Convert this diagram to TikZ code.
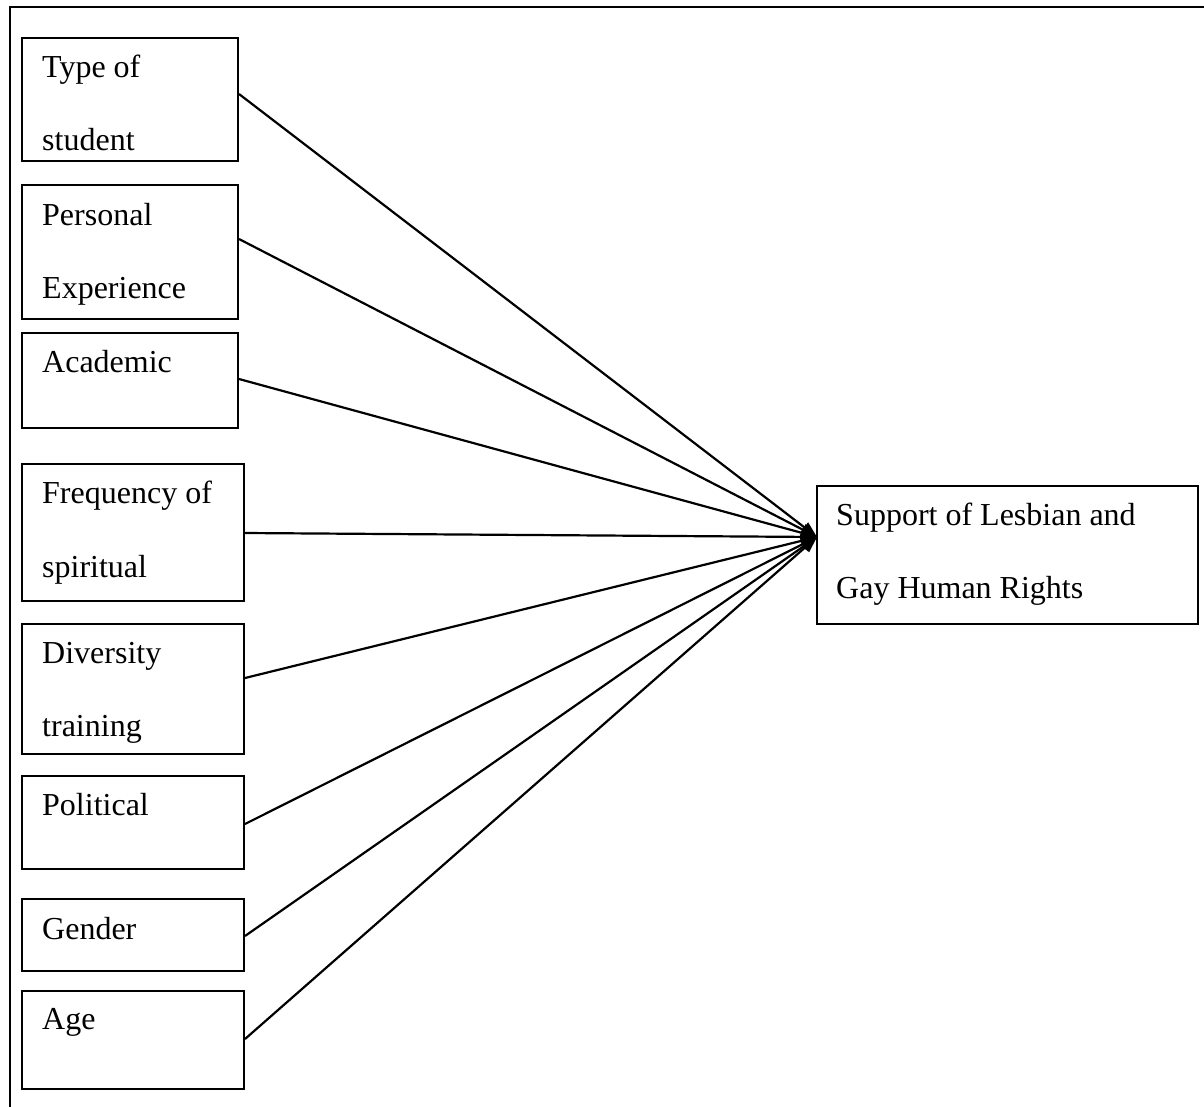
\documentclass[tikz,border=0pt]{standalone}
\usepackage{fontspec}
\setmainfont{Liberation Serif}
\usetikzlibrary{arrows.meta,calc}
\begin{document}
\begin{tikzpicture}[x=1pt,y=-1pt,
  box/.style={draw,line width=2pt,inner sep=0pt,anchor=north west},
  lbl/.style={anchor=base west,inner sep=0pt,font=\fontsize{32}{38}\selectfont},
  link/.style={line width=2.2pt,-{Triangle[length=16pt,width=12pt]}}]
\useasboundingbox (0,0) rectangle (1204,1106);
\clip (0,0) rectangle (1204,1106);
% outer frame (cut at right and bottom)
\coordinate (fa) at (10,7);
\coordinate (fb) at (1215,7);
\coordinate (fc) at (10,1115);
\draw[line width=2pt] (fb) -- (fa) -- (fc);
% boxes
\node[box,minimum width=216pt,minimum height=123pt] (b1) at (21,37) {};
\node[box,minimum width=216pt,minimum height=134pt] (b2) at (21,184) {};
\node[box,minimum width=216pt,minimum height=95pt] (b3) at (21,332) {};
\node[box,minimum width=222pt,minimum height=137pt] (b4) at (21,463) {};
\node[box,minimum width=222pt,minimum height=130pt] (b5) at (21,623) {};
\node[box,minimum width=222pt,minimum height=93pt] (b6) at (21,775) {};
\node[box,minimum width=222pt,minimum height=72pt] (b7) at (21,898) {};
\node[box,minimum width=222pt,minimum height=98pt] (b8) at (21,990) {};
\node[box,minimum width=381pt,minimum height=138pt] (t) at (816,485) {};
% labels
\node[lbl] (l1a) at (42,77) {Type of};
\node[lbl] (l1b) at (42,150) {student};
\node[lbl] (l2a) at (42,225) {Personal};
\node[lbl] (l2b) at (42,298) {Experience};
\node[lbl] (l3a) at (42,372) {Academic};
\node[lbl] (l4a) at (42,503) {Frequency of};
\node[lbl] (l4b) at (42,577) {spiritual};
\node[lbl] (l5a) at (42,663) {Diversity};
\node[lbl] (l5b) at (42,736) {training};
\node[lbl] (l6a) at (42,815) {Political};
\node[lbl] (l7a) at (42,939) {Gender};
\node[lbl] (l8a) at (42,1029) {Age};
\node[lbl] (ta) at (836,525) {Support of Lesbian and};
\node[lbl] (tb) at (836,598) {Gay Human Rights};
% connectors
\coordinate (tip) at (817,537);
\foreach \b/\dy in {b1/-5.5,b2/-13,b3/-1.5,b4/0.5,b5/-11,b6/1.5,b7/1,b8/-1}
  \draw[link] ($(\b.east)+(0,\dy)$) -- (tip);
\end{tikzpicture}
\end{document}
